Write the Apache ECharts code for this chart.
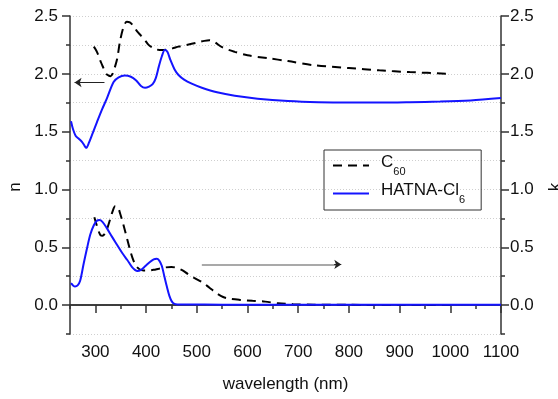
<!DOCTYPE html>
<html>
<head>
<meta charset="utf-8">
<script src="https://cdn.jsdelivr.net/npm/echarts@6/dist/echarts.min.js"></script>
<style>
  html, body { margin: 0; padding: 0; background: #fff; }
  #chart { width: 558px; height: 399px; }
</style>
</head>
<body>
<div id="chart"></div>
<script>
// wavelengths (nm) and values
const wlNHatna = [252, 256, 261, 267, 274, 279, 282, 287, 295, 303, 313, 323, 336, 346, 358, 370, 380, 390, 398, 406, 413, 419, 425, 431, 437, 442, 448, 456, 464, 475, 490, 510, 540, 575, 620, 680, 740, 800, 860, 920, 980, 1040, 1100]
const nHatna = [1.59, 1.52, 1.465, 1.44, 1.41, 1.375, 1.36, 1.40, 1.49, 1.58, 1.69, 1.79, 1.93, 1.97, 1.985, 1.975, 1.945, 1.895, 1.88, 1.89, 1.91, 1.96, 2.06, 2.15, 2.205, 2.19, 2.12, 2.04, 1.99, 1.95, 1.915, 1.88, 1.84, 1.81, 1.785, 1.765, 1.755, 1.752, 1.752, 1.755, 1.76, 1.77, 1.79]

const wlKHatna = [252, 256, 260, 265, 270, 277, 283, 290, 297, 303, 308, 314, 322, 333, 343, 353, 363, 372, 378, 383, 390, 398, 407, 415, 421, 426, 431, 436, 441, 446, 451, 456, 462, 480, 550, 700, 900, 1100]
const kHatna = [0.19, 0.17, 0.16, 0.17, 0.21, 0.36, 0.48, 0.61, 0.69, 0.73, 0.735, 0.72, 0.67, 0.59, 0.52, 0.45, 0.39, 0.33, 0.305, 0.295, 0.305, 0.335, 0.37, 0.395, 0.40, 0.385, 0.34, 0.25, 0.16, 0.08, 0.03, 0.01, 0.006, 0.005, 0.004, 0.003, 0.002, 0.002]

const wlNC60 = [297, 302, 306, 311, 316, 321, 326, 330, 334, 338, 343, 349, 356, 362, 368, 374, 382, 390, 398, 405, 413, 421, 431, 441, 452, 464, 480, 500, 515, 525, 535, 550, 575, 600, 640, 680, 730, 800, 860, 920, 1000]
const nC60 = [2.235, 2.20, 2.16, 2.10, 2.05, 2.00, 1.985, 1.98, 2.0, 2.05, 2.13, 2.29, 2.41, 2.45, 2.445, 2.42, 2.37, 2.33, 2.29, 2.25, 2.225, 2.21, 2.205, 2.21, 2.22, 2.235, 2.25, 2.27, 2.285, 2.29, 2.275, 2.23, 2.19, 2.16, 2.135, 2.11, 2.075, 2.05, 2.03, 2.015, 2.0]

const wlKC60 = [298, 302, 306, 310, 314, 319, 324, 329, 334, 339, 344, 349, 355, 361, 367, 373, 380, 387, 395, 405, 415, 425, 437, 450, 462, 472, 482, 495, 510, 525, 540, 552, 565, 585, 610, 635, 660, 690, 730, 800, 900, 1000]
const kC60 = [0.76, 0.70, 0.645, 0.605, 0.60, 0.62, 0.67, 0.74, 0.81, 0.855, 0.85, 0.79, 0.70, 0.60, 0.50, 0.41, 0.34, 0.31, 0.30, 0.30, 0.305, 0.315, 0.325, 0.33, 0.32, 0.30, 0.27, 0.235, 0.20, 0.15, 0.10, 0.07, 0.055, 0.045, 0.037, 0.03, 0.015, 0.008, 0.004, 0.002, 0.001, 0.0]

const xTicks = [300, 400, 500, 600, 700, 800, 900, 1000, 1100]
const yTicks = [0, 0.5, 1.0, 1.5, 2.0, 2.5]

// annotation arrows: [from, to] in data units
const arrowN = [[318, 1.925], [259, 1.925]]
const arrowK = [[510, 0.352], [785, 0.352]]

const FONT = 'Arial, "Liberation Sans", sans-serif'
const AXIS = { color: '#333', width: 1.5 }

const pairs = (xs, ys) => xs.map((x, i) => [x, ys[i]])

const chart = echarts.init(document.getElementById('chart'))

const baseX = { type: 'value', min: 250, max: 1100, gridIndex: 0 }
const baseY = { type: 'value', min: -0.25, max: 2.5 }

chart.setOption({
  animation: false,
  textStyle: { fontFamily: FONT },
  grid: { left: 70, right: 57, top: 16, bottom: 65, outerBoundsMode: 'none', containLabel: false },
  legend: {
    orient: 'vertical',
    left: 324,
    top: 150,
    data: ['C60', 'HATNA-Cl6'],
    itemWidth: 36,
    itemHeight: 14,
    itemGap: 5,
    padding: [4, 16, 5, 8],
    borderColor: '#333',
    borderWidth: 1,
    itemStyle: { opacity: 0 },
    formatter: (name) => name === 'C60' ? '{a|C}{s|60}' : '{a|HATNA-Cl}{s|6}',
    textStyle: {
      padding: [0, 0, 0, 7],
      rich: {
        a: { fontSize: 17, color: '#111', fontFamily: FONT, verticalAlign: 'top', lineHeight: 20 },
        s: { fontSize: 11, color: '#111', fontFamily: FONT, verticalAlign: 'top', padding: [12, 0, 0, 0] },
      },
    },
  },
  xAxis: [
    {
      ...baseX,
      position: 'bottom',
      interval: 50,
      axisLine: { lineStyle: AXIS },
      axisTick: { inside: false, length: 4, lineStyle: AXIS },
      axisLabel: { customValues: xTicks, formatter: (v) => String(v), fontSize: 17, color: '#111', margin: 10 },
      splitLine: { show: false },
      name: 'wavelength (nm)',
      nameLocation: 'middle',
      nameGap: 42,
      nameTextStyle: { fontSize: 17, color: '#111' },
    },
    {
      ...baseX,
      position: 'bottom',
      axisLine: { show: false },
      axisTick: { inside: false, customValues: xTicks, length: 8, lineStyle: AXIS },
      axisLabel: { show: false },
      splitLine: { show: false },
    },
    {
      ...baseX,
      position: 'top',
      axisLine: { lineStyle: AXIS },
      axisTick: { show: false },
      axisLabel: { show: false },
      splitLine: { show: false },
    },
  ],
  yAxis: [
    {
      ...baseY,
      position: 'left',
      interval: 0.25,
      axisLine: { show: true, lineStyle: AXIS },
      axisTick: { show: true, inside: false, length: 4, lineStyle: AXIS },
      axisLabel: { customValues: yTicks, formatter: (v) => v.toFixed(1), fontSize: 17, color: '#111', margin: 12 },
      splitLine: { show: true, lineStyle: { color: '#cfcfcf', type: [1, 2], width: 1 } },
      name: 'n',
      nameLocation: 'middle',
      nameGap: 45,
      nameRotate: 90,
      nameTextStyle: { fontSize: 17, color: '#111', padding: [0, 24, 0, 0] },
    },
    {
      ...baseY,
      position: 'left',
      axisLine: { show: false },
      axisTick: { show: true, inside: false, customValues: yTicks, length: 8, lineStyle: AXIS },
      axisLabel: { show: false },
      splitLine: { show: false },
    },
    {
      ...baseY,
      position: 'right',
      interval: 0.25,
      axisLine: { show: true, lineStyle: AXIS },
      axisTick: { show: true, inside: false, length: 4, lineStyle: AXIS },
      axisLabel: { customValues: yTicks, formatter: (v) => v.toFixed(1), fontSize: 17, color: '#111', margin: 9 },
      splitLine: { show: false },
      name: 'k',
      nameLocation: 'middle',
      nameGap: 46,
      nameRotate: 90,
      nameTextStyle: { fontSize: 17, color: '#111', padding: [0, 24, 0, 0] },
    },
    {
      ...baseY,
      position: 'right',
      axisLine: { show: false },
      axisTick: { show: true, inside: false, customValues: yTicks, length: 8, lineStyle: AXIS },
      axisLabel: { show: false },
      splitLine: { show: false },
    },
  ],
  series: [
    {
      name: 'C60',
      type: 'line',
      yAxisIndex: 0,
      data: pairs(wlNC60, nC60),
      symbol: 'none',
      smooth: 0.3,
      color: '#000',
      lineStyle: { color: '#000', width: 2, type: [9, 6] },
    },
    {
      name: 'C60',
      type: 'line',
      yAxisIndex: 2,
      data: pairs(wlKC60, kC60),
      symbol: 'none',
      smooth: 0.3,
      color: '#000',
      lineStyle: { color: '#000', width: 2, type: [9, 6] },
    },
    {
      name: 'HATNA-Cl6',
      type: 'line',
      yAxisIndex: 0,
      data: pairs(wlNHatna, nHatna),
      symbol: 'none',
      smooth: 0.3,
      color: '#1414ff',
      lineStyle: { color: '#1414ff', width: 2 },
    },
    {
      name: 'HATNA-Cl6',
      type: 'line',
      yAxisIndex: 2,
      data: pairs(wlKHatna, kHatna),
      symbol: 'none',
      smooth: 0.3,
      color: '#1414ff',
      lineStyle: { color: '#1414ff', width: 2 },
    },
    {
      name: 'arrows',
      type: 'lines',
      coordinateSystem: 'cartesian2d',
      xAxisIndex: 0,
      yAxisIndex: 0,
      silent: true,
      symbol: ['none', 'arrow'],
      symbolSize: 7,
      data: [
        { coords: arrowN, lineStyle: { color: '#222', width: 1, opacity: 1 } },
        { coords: [arrowK[0], [arrowK[1][0] - 10, arrowK[1][1]]], symbol: ['none', 'none'], lineStyle: { color: '#8c8c8c', width: 1.5, opacity: 1 } },
        { coords: [[arrowK[1][0] - 14, arrowK[1][1]], arrowK[1]], lineStyle: { color: '#222', width: 1, opacity: 1 } },
      ],
    },
  ],
})
</script>
</body>
</html>
